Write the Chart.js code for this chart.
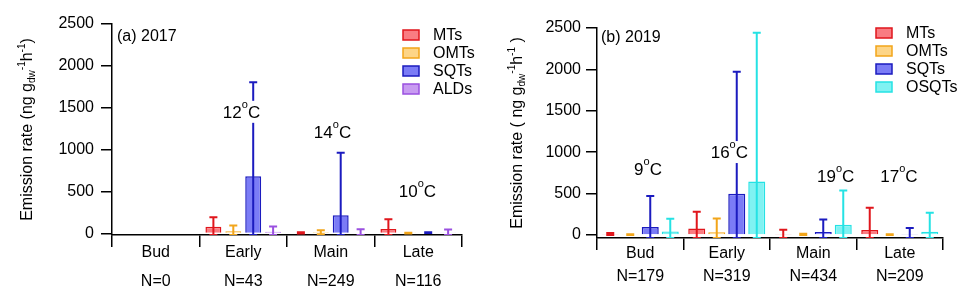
<!DOCTYPE html>
<html>
<head>
<meta charset="utf-8">
<script src="https://cdn.jsdelivr.net/npm/chart.js@4/dist/chart.umd.min.js"></script>
<style>
  body { margin: 0; background: #fff; width: 970px; height: 301px; overflow: hidden; position: relative; }
  .panel { position: absolute; top: 0; width: 485px; height: 301px; }
</style>
</head>
<body>
<div class="panel" style="left:0"><canvas id="c2017" width="485" height="301"></canvas></div>
<div class="panel" style="left:485px"><canvas id="c2019" width="485" height="301"></canvas></div>
<script>
const stages = ['Bud', 'Early', 'Main', 'Late'];
const n2017 = [0, 43, 249, 116];
const n2019 = [179, 319, 434, 209];
const temp2017 = [null, 12, 14, 10];
const temp2019 = [9, 16, 19, 17];
const yTicks = [0, 500, 1000, 1500, 2000, 2500];

// mean emission rate (bars) and top of the error bar, ng g-1 h-1
const mts2017 = [null, 80, 8, 55];
const mts2017Hi = [null, 195, 15, 170];
const omts2017 = [null, 28, 15, 5];
const omts2017Hi = [null, 95, 40, 10];
const sqts2017 = [null, 683, 218, 10];
const sqts2017Hi = [null, 1805, 964, 15];
const alds2017 = [null, 20, 8, 12];
const alds2017Hi = [null, 83, 51, 48];

const mts2019 = [12, 80, 12, 60];
const mts2019Hi = [24, 281, 64, 330];
const omts2019 = [5, 32, 8, 5];
const omts2019Hi = [10, 200, 15, 10];
const sqts2019 = [97, 499, 36, 12];
const sqts2019Hi = [470, 1972, 188, 85];
const osqts2019 = [44, 647, 124, 40];
const osqts2019Hi = [197, 2443, 539, 270];

const FONT = 'Arial, "Liberation Sans", sans-serif';
const colors = {
  MTs:   { fill: '#f97c82', line: '#e0161c' },
  OMTs:  { fill: '#fdd587', line: '#f2a51a' },
  SQTs:  { fill: '#7b7cf6', line: '#1b1bbf' },
  ALDs:  { fill: '#c89bf1', line: '#9a50e0' },
  OSQTs: { fill: '#80f2f2', line: '#25e2e4' }
};

function series(name, data, hi) {
  return {
    label: name, data: data, errHigh: hi,
    backgroundColor: colors[name].fill,
    borderColor: colors[name].line,
    borderWidth: 1.5
  };
}

const errorBars = {
  id: 'errorBars',
  afterDatasetsDraw(chart) {
    const { ctx, chartArea, scales: { y } } = chart;
    ctx.save();
    ctx.beginPath();
    ctx.rect(chartArea.left, chartArea.top - 2, chartArea.width, chartArea.height + 2);
    ctx.clip();
    chart.data.datasets.forEach((ds, di) => {
      const meta = chart.getDatasetMeta(di);
      ds.data.forEach((v, i) => {
        const hi = ds.errHigh[i];
        if (v == null || hi == null) return;
        const x = meta.data[i].x;
        const lo = Math.max(2 * v - hi, y.min);
        const y1 = y.getPixelForValue(hi), y0 = y.getPixelForValue(lo);
        ctx.strokeStyle = ds.borderColor;
        ctx.lineWidth = 2;
        ctx.beginPath();
        ctx.moveTo(x, y0); ctx.lineTo(x, y1);
        ctx.moveTo(x - 4, y1); ctx.lineTo(x + 4, y1);
        ctx.moveTo(x - 4, y0); ctx.lineTo(x + 4, y0);
        ctx.stroke();
      });
    });
    ctx.restore();
  }
};

const extras = {
  id: 'extras',
  afterDraw(chart, args, opts) {
    const { ctx, chartArea, scales: { x, y } } = chart;
    ctx.save();
    ctx.fillStyle = '#000';
    ctx.textBaseline = 'middle';

    // temperature labels
    opts.temps.forEach((t, i) => {
      if (t == null) return;
      const cx = x.getPixelForValue(opts.tempX[i]);
      const cy = y.getPixelForValue(opts.tempY[i]);
      const num = String(t);
      ctx.font = '17px ' + FONT;
      const wNum = ctx.measureText(num).width, wC = ctx.measureText('C').width;
      ctx.font = '11px ' + FONT;
      const wO = ctx.measureText('o').width;
      const w = wNum + wO + wC;
      let sx = cx - w / 2;
      ctx.fillStyle = '#fff';
      ctx.fillRect(sx - 2, cy - 12, w + 4, 22);
      ctx.fillStyle = '#000';
      ctx.textAlign = 'left';
      ctx.font = '17px ' + FONT;
      ctx.fillText(num, sx, cy);
      ctx.font = '11px ' + FONT;
      ctx.fillText('o', sx + wNum, cy - 8);
      ctx.font = '17px ' + FONT;
      ctx.fillText('C', sx + wNum + wO, cy);
    });

    // panel label
    ctx.font = '16px ' + FONT;
    ctx.textAlign = 'left';
    ctx.fillText(opts.panel, chartArea.left + opts.panelDx, opts.panelY);

    // legend
    chart.data.datasets.forEach((ds, i) => {
      const ly = opts.legTop + i * 18;
      const bx = chartArea.right - opts.legDx;
      ctx.fillStyle = ds.backgroundColor;
      ctx.fillRect(bx, ly - 5, 16, 10);
      ctx.strokeStyle = ds.borderColor;
      ctx.lineWidth = 1.5;
      ctx.strokeRect(bx, ly - 5, 16, 10);
      ctx.fillStyle = '#000';
      ctx.font = '16px ' + FONT;
      ctx.fillText(ds.label, bx + 30, ly + 1);
    });

    // y axis title with sub/superscripts
    const parts = [
      [opts.titleA, 16, 0], ['dw', 10, 4], ['-1', 10, -6], ['h', 16, 0], ['-1', 10, -6], [opts.titleB, 16, 0]
    ];
    let total = 0;
    parts.forEach(p => { ctx.font = p[1] + 'px ' + FONT; total += ctx.measureText(p[0]).width; });
    ctx.translate(opts.titleX, (chartArea.top + chartArea.bottom) / 2);
    ctx.rotate(-Math.PI / 2);
    let px = -total / 2;
    parts.forEach(p => {
      ctx.font = p[1] + 'px ' + FONT;
      ctx.fillText(p[0], px, p[2]);
      px += ctx.measureText(p[0]).width;
    });
    ctx.restore();
  }
};

function makeChart(id, cfg) {
  return new Chart(document.getElementById(id), {
    type: 'bar',
    data: {
      labels: stages.map((s, i) => [s, 'N=' + cfg.n[i]]),
      datasets: cfg.datasets
    },
    options: {
      responsive: false,
      devicePixelRatio: 1,
      animation: false,
      categoryPercentage: cfg.catPct,
      barPercentage: cfg.barPct,
      layout: { padding: { left: 0, top: cfg.top, right: cfg.right, bottom: 0 } },
      plugins: {
        legend: { display: false },
        tooltip: { enabled: false },
        extras: cfg.extras
      },
      scales: {
        x: {
          grid: { offset: true, drawOnChartArea: false, tickLength: 12, color: '#000', lineWidth: 1.5 },
          border: { display: true, color: '#000', width: 1.5 },
          ticks: {
            color: '#000', autoSkip: false, maxRotation: 0, padding: cfg.xPad,
            font: { family: FONT, size: 16, lineHeight: cfg.xLine }
          },
          afterFit: s => { s.height = 301 - cfg.bottom; }
        },
        y: {
          min: cfg.yMin, max: 2500,
          grid: { drawOnChartArea: false, tickLength: 11, color: '#000', lineWidth: 1.5 },
          border: { display: true, color: '#000', width: 1.5 },
          ticks: {
            color: '#000', padding: cfg.yPad, font: { family: FONT, size: 16 },
            callback: v => String(v)
          },
          afterBuildTicks: s => { s.ticks = yTicks.map(v => ({ value: v })); },
          afterFit: s => { s.width = cfg.left; }
        }
      }
    },
    plugins: [errorBars, extras]
  });
}

makeChart('c2017', {
  n: n2017,
  datasets: [
    series('MTs', mts2017, mts2017Hi),
    series('OMTs', omts2017, omts2017Hi),
    series('SQTs', sqts2017, sqts2017Hi),
    series('ALDs', alds2017, alds2017Hi)
  ],
  left: 112, right: 23, top: 24, bottom: 235, yMin: -18,
  catPct: 0.91, barPct: 0.8, xPad: -8.5, xLine: 1.8, yPad: 7,
  extras: {
    temps: temp2017, tempX: [null, 0.98, 2.02, 2.99], tempY: [null, 1440, 1200, 495],
    panel: '(a) 2017', panelDx: 5, panelY: 37,
    legTop: 35, legDx: 59,
    titleA: 'Emission rate (ng g', titleB: ')', titleX: 28
  }
});

makeChart('c2019', {
  n: n2019,
  datasets: [
    series('MTs', mts2019, mts2019Hi),
    series('OMTs', omts2019, omts2019Hi),
    series('SQTs', sqts2019, sqts2019Hi),
    series('OSQTs', osqts2019, osqts2019Hi)
  ],
  left: 112, right: 27, top: 28, bottom: 238, yMin: -36,
  catPct: 0.925, barPct: 0.85, xPad: -7.5, xLine: 1.4375, yPad: 5,
  extras: {
    temps: temp2019, tempX: [0.09, 1.03, 2.26, 2.99], tempY: [785, 990, 700, 700],
    panel: '(b) 2019', panelDx: 4, panelY: 38,
    legTop: 33, legDx: 67,
    titleA: 'Emission rate ( ng g', titleB: ' )', titleX: 33
  }
});
</script>
</body>
</html>
